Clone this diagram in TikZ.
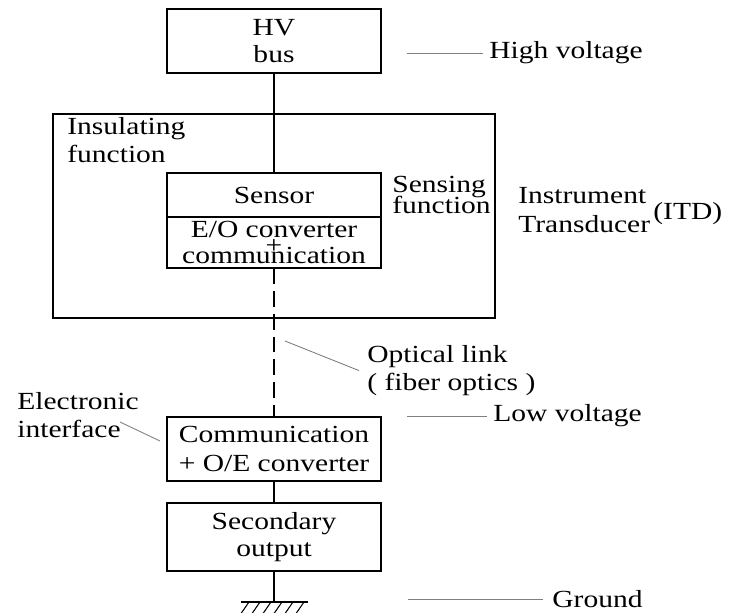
\documentclass[tikz,border=0pt]{standalone}
\usepackage{fontspec}
\setmainfont{Liberation Serif}[FakeStretch=1.2]
\usetikzlibrary{positioning}

\begin{document}
\begin{tikzpicture}[every node/.style={font=\fontsize{14}{15.5}\selectfont},
    blk/.style={draw,line width=1pt,outer sep=0pt,inner sep=0pt,
                minimum width=4.28cm,align=center},
    lbl/.style={align=left,inner sep=0pt},
    wire/.style={line width=1pt},
    leader/.style={gray,line width=0.5pt}]
  \useasboundingbox (0,0) rectangle (14.64,12.24);

  % main chain
  \node[blk,minimum height=1.28cm] (hv) at (5.48,11.42) {HV\\bus};
  \node[draw,line width=1pt,minimum width=8.84cm,minimum height=4.08cm] (itd) at (5.48,7.92) {};
  \node[blk,minimum height=0.88cm] (sensor) at (5.48,8.34) {Sensor};
  \node[blk,minimum height=1.02cm,below=0pt of sensor] (eo)
    {E/O converter\\[-6.5pt]+\\[-9.5pt]communication};
  \node[blk,minimum height=1.28cm] (comm) at (5.48,3.26)
    {Communication\\[1.5pt]+ O/E converter};
  \node[blk,minimum height=1.36cm] (sec) at (5.48,1.50) {Secondary\\output};
  \coordinate (gnd) at (5.48,0.20);

  \draw[wire] (hv) -- (sensor);
  \draw[wire,dash pattern=on 9pt off 4pt] (eo) -- (comm);
  \draw[wire] (comm) -- (sec);
  \draw[wire] (sec) -- (gnd);
  \draw[wire] (4.82,0.20) -- (6.16,0.20);
  \foreach \i in {0,...,5}
    \draw[line width=0.6pt] (4.98+\i*0.22,0.20) -- ++(-0.18,-0.26);

  % labels inside and around
  \node[lbl,anchor=north west] (insul) at (1.34,9.89) {Insulating\\function};
  \node[lbl,anchor=north west] (sensing) at (7.84,8.72) {Sensing\\[-3.5pt]function};
  \node[lbl,anchor=north west] (instr) at (10.36,8.50) {Instrument\\[1pt]Transducer};
  \node[lbl,anchor=west] (itdl) at (13.06,7.97) {(ITD)};

  \node[lbl,anchor=north west] (optic) at (7.34,5.33) {Optical link\\( fiber optics )};
  \coordinate (optx) at (5.70,5.42);
  \draw[leader] (optx) -- ([xshift=-0.16cm]optic.west);

  \node[lbl,anchor=north west] (elec) at (0.34,4.39) {Electronic\\interface};
  \coordinate (elecx) at (2.40,3.80);
  \draw[leader] (elecx) -- ([shift={(-0.14cm,0.16cm)}]comm.west);

  % voltage levels
  \node[lbl,anchor=base west] (hvl) at (9.78,11.06) {High voltage};
  \draw[leader] ([xshift=-0.12cm]hvl.west) -- ++(-1.52,0);
  \node[lbl,anchor=base west] (lvl) at (9.86,3.80) {Low voltage};
  \draw[leader] ([xshift=-0.12cm]lvl.west) -- ++(-1.60,0);
  \node[lbl,anchor=base west] (gndl) at (11.04,0.09) {Ground};
  \draw[leader] ([xshift=-0.18cm]gndl.west) -- ++(-2.70,0);
\end{tikzpicture}
\end{document}
